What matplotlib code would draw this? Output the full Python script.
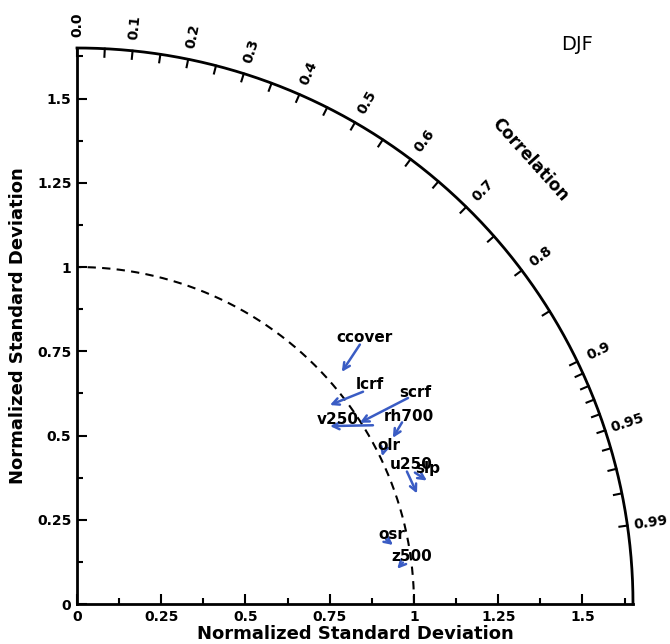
import numpy as np
import matplotlib.pyplot as plt

# Taylor diagram, DJF: arrows go from the old run to the new run
names = ['ccover', 'lcrf', 'scrf', 'v250', 'rh700', 'olr', 'u250', 'slp', 'osr', 'z500']
std_from = [1.139, 1.057, 1.157, 1.026, 1.105, 1.014, 1.055, 1.076, 0.937, 0.975]
corr_from = [0.737, 0.803, 0.849, 0.856, 0.873, 0.896, 0.928, 0.932, 0.979, 0.992]
std_to = [1.045, 0.955, 0.997, 0.918, 1.059, 1.006, 1.061, 1.101, 0.954, 0.956]
corr_to = [0.752, 0.786, 0.842, 0.818, 0.885, 0.900, 0.951, 0.943, 0.983, 0.994]

std_ticks = [0, 0.25, 0.5, 0.75, 1, 1.25, 1.5]
std_ticklabels = ['0', '0.25', '0.5', '0.75', '1', '1.25', '1.5']
corr_major = [0.0, 0.1, 0.2, 0.3, 0.4, 0.5, 0.6, 0.7, 0.8, 0.9, 0.95, 0.99]
corr_labels = ['0.0', '0.1', '0.2', '0.3', '0.4', '0.5', '0.6', '0.7', '0.8', '0.9', '0.95', '0.99']
corr_minor = [0.05, 0.15, 0.25, 0.35, 0.45, 0.55, 0.65, 0.75, 0.85,
              0.91, 0.92, 0.93, 0.94, 0.96, 0.97, 0.98]

RMAX = 1.65
BLUE = '#3a5cc4'

# label offsets (points) from the arrow tail, text centred
label_off = {'ccover': (3, 5), 'lcrf': (5, 5), 'scrf': (5, 4), 'v250': (-25, 4),
             'rh700': (5, 4), 'olr': (4, 5), 'u250': (3, 5), 'slp': (9, 3),
             'osr': (4, 4), 'z500': (6, 4)}

plt.rcParams['font.family'] = 'DejaVu Sans'
plt.rcParams['font.weight'] = 'bold'

fig = plt.figure(figsize=(6.7, 6.44), dpi=100)
ax = fig.add_axes([77 / 670, 40 / 644, 556 / 670, 556 / 644])
ax.set_xlim(0, RMAX)
ax.set_ylim(0, RMAX)
for s in ['top', 'right']:
    ax.spines[s].set_visible(False)
for s in ['left', 'bottom']:
    ax.spines[s].set_linewidth(2)

ax.set_xticks(std_ticks)
ax.set_xticklabels(std_ticklabels)
ax.set_yticks(std_ticks)
ax.set_yticklabels(std_ticklabels)
minor = np.arange(0.125, 1.65, 0.25)
ax.set_xticks(minor, minor=True)
ax.set_yticks(minor, minor=True)
ax.tick_params(which='major', direction='in', length=7, width=1.5, labelsize=10, pad=4)
ax.tick_params(which='minor', direction='in', length=4, width=1.5)

ax.set_xlabel('Normalized Standard Deviation', fontsize=13, fontweight='bold', labelpad=1)
ax.set_ylabel('Normalized Standard Deviation', fontsize=13, fontweight='bold', labelpad=7)

# outer arc and reference circle
th = np.linspace(0, np.pi / 2, 300)
ax.plot(RMAX * np.cos(th), RMAX * np.sin(th), color='black', lw=2, clip_on=False)
ax.plot(np.cos(th), np.sin(th), color='black', lw=1.5, ls=(0, (4, 3)))

# correlation ticks and labels
tl = 0.024
for c in corr_major + corr_minor:
    a = np.arccos(c)
    ax.plot([RMAX * np.cos(a), (RMAX - tl) * np.cos(a)],
            [RMAX * np.sin(a), (RMAX - tl) * np.sin(a)], color='black', lw=1.5, clip_on=False)
for c, lab in zip(corr_major, corr_labels):
    a = np.arccos(c)
    ax.text(1.72 * np.cos(a), 1.72 * np.sin(a), lab, rotation=np.degrees(a),
            ha='center', va='center', fontsize=10, fontweight='bold', rotation_mode='anchor')

ax.text(1.344, 1.318, 'Correlation', rotation=-48, ha='center', va='center',
        fontsize=12, fontweight='bold', rotation_mode='anchor')
ax.text(1.484, 1.66, 'DJF', ha='center', va='center', fontsize=14, fontweight='normal')

# arrows
for n, s0, c0, s1, c1 in zip(names, std_from, corr_from, std_to, corr_to):
    a0, a1 = np.arccos(c0), np.arccos(c1)
    x0, y0 = s0 * np.cos(a0), s0 * np.sin(a0)
    x1, y1 = s1 * np.cos(a1), s1 * np.sin(a1)
    ax.annotate('', xy=(x1, y1), xytext=(x0, y0),
                arrowprops=dict(arrowstyle='->', color=BLUE, lw=1.8, mutation_scale=12,
                                shrinkA=0, shrinkB=0))
    ax.annotate(n, xy=(x0, y0), xytext=label_off[n], textcoords='offset points',
                ha='center', va='center', fontsize=11, fontweight='bold')

fig.savefig('out.png', dpi=100)
